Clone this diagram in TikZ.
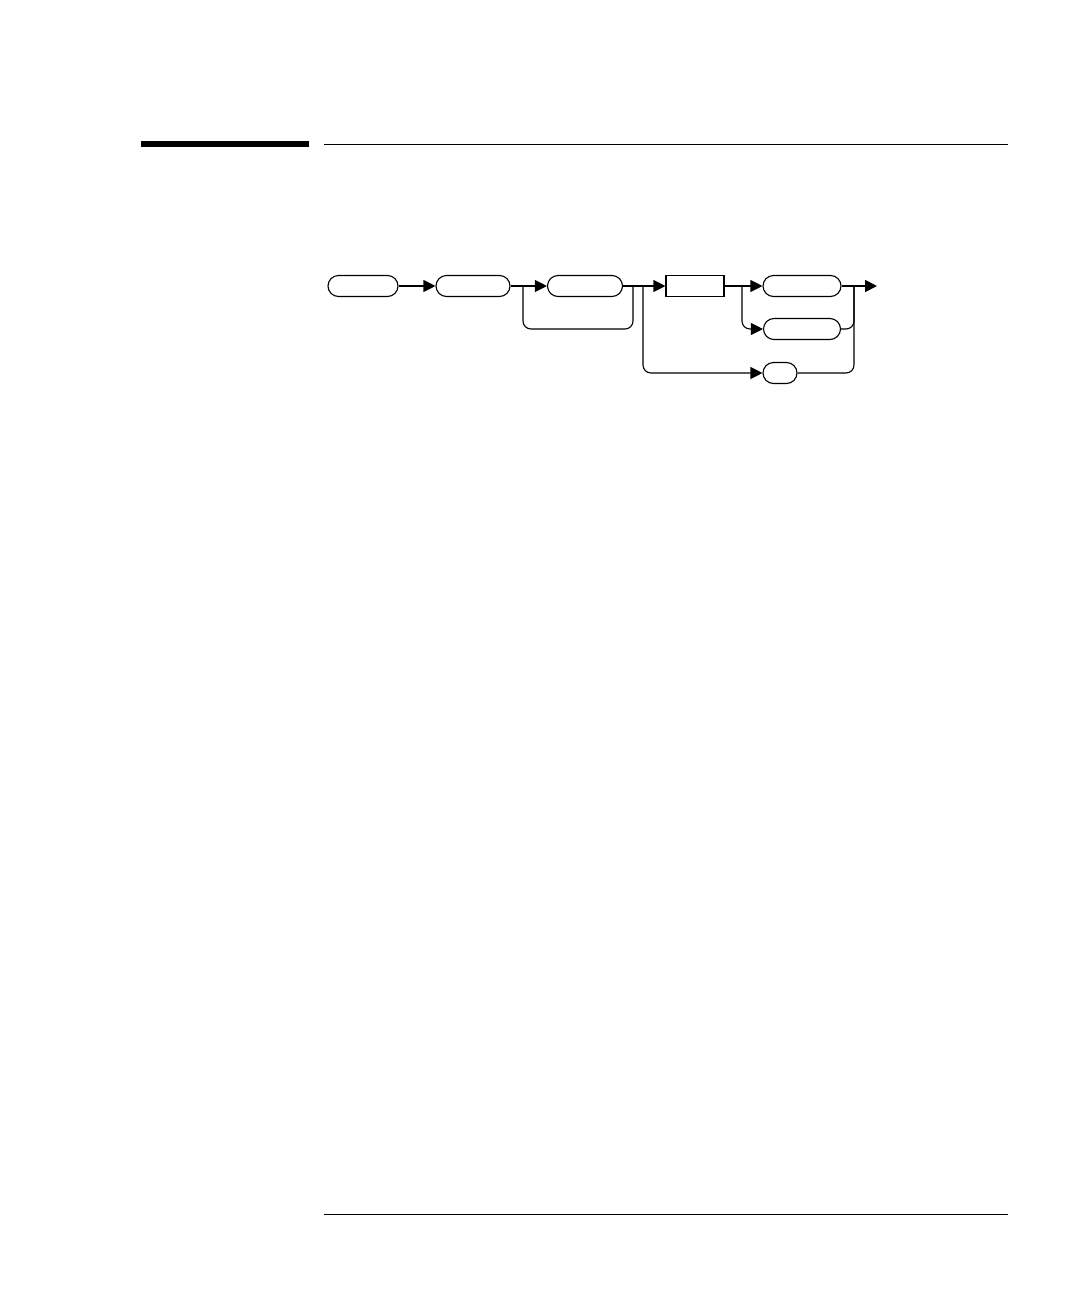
\documentclass[tikz,border=0pt]{standalone}
\usepackage{tikz}
\usetikzlibrary{arrows.meta}

\begin{document}
\begin{tikzpicture}[x=1pt, y=-1pt, node distance=110pt, line width=1.1pt,
    >={Triangle[length=12pt, width=12pt]}]
    \tikzstyle{term} = [rectangle, rounded corners=10.5pt, minimum width=74pt, minimum height=21pt, inner sep=0pt, draw]
    \tikzstyle{cmd} = [rectangle, minimum width=58pt, minimum height=21pt, inner sep=0pt, draw]
    \tikzstyle{track} = [rounded corners=8pt]

    \useasboundingbox (0,0) rectangle (1080,1296);

    % Page rules
    \fill (141,141) rectangle (309,147);
    \draw [line width=1pt] (324,144) -- (1008,144);
    \draw [line width=1pt] (324,1214) -- (1008,1214);

    % Main row
    \node [term, minimum width=70pt] (start) at (363,286) {};
    \node [term, right of=start] (first) {};
    \node [term, minimum width=75pt, right of=first, xshift=2pt] (repeat) {};
    \node [cmd, right of=repeat] (keyword) {};
    \node [term, minimum width=78pt, right of=keyword, xshift=-3pt] (optA) {};

    % Options below
    \node [term, minimum width=77pt, below of=optA, node distance=43pt] (optB) {};
    \node [term, minimum width=34pt, below of=optB, node distance=44pt, xshift=-22pt] (optC) {};

    % Branch points
    \coordinate [left of=repeat, node distance=62pt] (loopL);
    \coordinate [right of=repeat, node distance=48pt] (loopR);
    \coordinate [right of=repeat, node distance=58pt] (skip);
    \coordinate [right of=keyword, node distance=47pt] (choose);
    \coordinate [right of=optA, node distance=52pt] (merge);
    \coordinate [right of=optA, node distance=75pt] (exit);

    % Arrows
    \draw [->] (start) -- (first);
    \draw [->] (first) -- (repeat);
    \draw [->] (repeat) -- (keyword);
    \draw [->] (keyword) -- (optA);
    \draw [track] (loopR) -- ++(0,43) -| (loopL);
    \draw [->, track] (skip) |- (optC);
    \draw [->, track] (choose) |- (optB);
    \draw [track] (optB) -| (merge);
    \draw [track] (optC) -| (merge);
    \draw [->, line width=1.8pt] (optA) -- (exit);
\end{tikzpicture}
\end{document}
